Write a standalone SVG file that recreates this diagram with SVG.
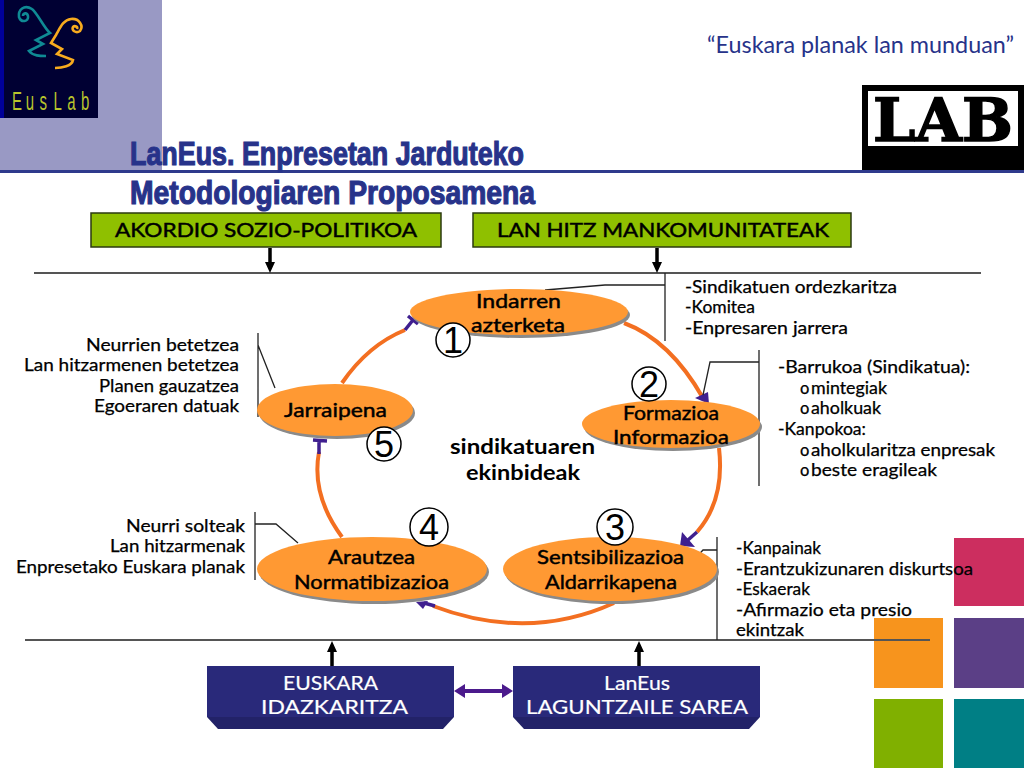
<svg xmlns="http://www.w3.org/2000/svg" width="1024" height="768" viewBox="0 0 1024 768">
<style>
text{font-family:Lato,"Open Sans",sans-serif;fill:#000;font-weight:400}
.t18{font-size:19px;stroke:#000;stroke-width:.45}.t16{font-size:16.5px;stroke:#000;stroke-width:.25}
.w{fill:#fff;font-size:20px;stroke:#fff;stroke-width:.2}
.big{font-size:21px;font-weight:700}
.num{font-family:"Liberation Sans",sans-serif;font-size:36px;font-weight:400;text-anchor:middle}
.ttl{font-family:"Liberation Sans",sans-serif;font-weight:700;font-size:33.5px;fill:#27338a;stroke:#27338a;stroke-width:1.2}
.rule{stroke:#555;stroke-width:2;fill:none}
.thin{stroke:#222;stroke-width:1.3;fill:none}
.arc{stroke:#f36f21;stroke-width:4;fill:none}
.blk{stroke:#000;stroke-width:3.5;fill:none}
.head{fill:#000}.ph{fill:#3f1f8f}.pl{stroke:#3f1f8f;stroke-width:3.5;fill:none}
.ell{fill:#ff9933}.sh{fill:#8a8a8a}
.green{fill:#8fc000;stroke:#2b3a10;stroke-width:1.5}
.navy{fill:#29297a}.navyb{fill:#222268}
.circ{fill:#fff;stroke:#000;stroke-width:1.5}
</style>
<rect width="1024" height="768" fill="#fff"/>
<g id="background">
<rect x="0" y="0" width="162" height="170" fill="#9999c4"/>
<rect x="0" y="0" width="98" height="118" fill="#000033"/>
<rect x="0" y="0" width="4" height="118" fill="#000099"/>
<path d="M32 9C24 4 18 10 19 17C21 23 29 22 28 16C27 12 23 13 23 16M32 9C38 14 44 28 50 33L36 40L43 44L29 51C33 56 40 56 46 56" fill="none" stroke="#0f8a94" stroke-width="2.6"/>
<path d="M71 19C63 20 60 28 56 35L51 43L62 49L57 54L73 60C72 66 62 68 55 68M71 19C79 18 84 26 80 31C76 34 71 30 73 27C75 25 78 27 77 29" fill="none" stroke="#f7ab1e" stroke-width="2.6"/>
<text transform="translate(12,110) scale(.6,1)" x="0 23 46 69 92 115" y="0" font-size="25" style="font-family:'Liberation Sans',sans-serif;fill:#b8c42c;font-weight:400">EusLab</text>
<rect x="862" y="85" width="162" height="85" fill="#000"/>
<rect x="868" y="91" width="150" height="55" fill="#fff"/>
<text x="873" y="141" style="font-family:'DejaVu Serif',serif;font-weight:700;font-size:60px" stroke="#000" stroke-width="1.5" textLength="140" lengthAdjust="spacingAndGlyphs">LAB</text>
<rect x="954" y="538" width="70" height="68" fill="#cc2e5f"/>
<rect x="874" y="618" width="69" height="70" fill="#f7941d"/>
<rect x="954" y="618" width="70" height="70" fill="#5b3f86"/>
<rect x="874" y="699" width="69" height="69" fill="#80b000"/>
<rect x="954" y="699" width="70" height="69" fill="#007f85"/>
<rect x="0" y="170" width="1024" height="3" fill="#2e3a8c"/>
</g>
<g id="title">
<text x="707" y="53" style="font-size:23px;fill:#27338a" textLength="307" lengthAdjust="spacingAndGlyphs">“Euskara planak lan munduan”</text>
<text class="ttl" x="130" y="165" textLength="394" lengthAdjust="spacingAndGlyphs">LanEus. Enpresetan Jarduteko</text>
<text class="ttl" x="130" y="204" textLength="405" lengthAdjust="spacingAndGlyphs">Metodologiaren Proposamena</text>
</g>
<g id="connectors">
<path class="rule" d="M34 273H981"/>
<path class="rule" d="M25 640H930"/>
<path class="blk" d="M270 248V264M657 248V264M332 666V650M639 666V650"/>
<path class="head" d="M265 262h10l-5 11zM652 262h10l-5 11zM327 652h10l-5-11zM634 652h10l-5-11z"/>
<path class="arc" d="M624 323Q670 340 703 398"/>
<path class="arc" d="M719 448Q725 500 697 532"/>
<path class="arc" d="M614 603Q528 642 433 606"/>
<path class="arc" d="M342 537Q311 495 319 452"/>
<path class="arc" d="M342 383Q368 345 405 330"/>
<path class="ph" d="M695 398L708 392L709 404z"/>
<path class="pl" d="M697 532L688 540"/>
<path class="ph" d="M682 532L680 546L695 547z"/>
<path class="ph" d="M416 602L423 609L428 601z"/>
<path class="pl" d="M424 603L435 606"/>
<path class="pl" d="M313 440L327 441M319 440V454"/>
<path class="pl" d="M408 316L418 324M413 320L405 330"/>
<path class="thin" d="M545 290L605 285H665M665 273V341"/>
<path class="thin" d="M759 350V486M759 362H710L703 395"/>
<path class="thin" d="M258 333V417M258 345L275 388"/>
<path class="thin" d="M255 512V580M255 524H276L298 543"/>
<path class="thin" d="M717 537V640M717 550H703L692 562"/>
<path d="M461 691H506" stroke="#4b1a8c" stroke-width="4" fill="none"/>
<path d="M454 691l11-7v14zM513 691l-11-7v14z" fill="#4b1a8c"/>
</g>
<g id="node-akordio"><rect class="green" x="91" y="213" width="350" height="34"/><text class="t18" x="115" y="237" textLength="302" lengthAdjust="spacingAndGlyphs">AKORDIO SOZIO-POLITIKOA</text></g>
<g id="node-lanhitz"><rect class="green" x="473" y="213" width="378" height="34"/><text class="t18" x="497" y="237" textLength="332" lengthAdjust="spacingAndGlyphs">LAN HITZ MANKOMUNITATEAK</text></g>
<g id="node-indarren"><ellipse class="sh" cx="521" cy="315" rx="109" ry="23"/><ellipse class="ell" cx="519" cy="312" rx="109" ry="23"/><text class="t18" x="476" y="308" textLength="85" lengthAdjust="spacingAndGlyphs">Indarren</text><text class="t18" x="471" y="332" textLength="94" lengthAdjust="spacingAndGlyphs">azterketa</text></g>
<g id="node-formazioa"><ellipse class="sh" cx="673" cy="427" rx="89" ry="24"/><ellipse class="ell" cx="671" cy="424" rx="89" ry="24"/><text class="t18" x="623" y="420" textLength="96" lengthAdjust="spacingAndGlyphs">Formazioa</text><text class="t18" x="613" y="444" textLength="116" lengthAdjust="spacingAndGlyphs">Informazioa</text></g>
<g id="node-sentsibilizazioa"><ellipse class="sh" cx="612" cy="572" rx="107" ry="32"/><ellipse class="ell" cx="610" cy="569" rx="107" ry="32"/><text class="t18" x="537" y="564" textLength="147" lengthAdjust="spacingAndGlyphs">Sentsibilizazioa</text><text class="t18" x="545" y="589" textLength="132" lengthAdjust="spacingAndGlyphs">Aldarrikapena</text></g>
<g id="node-arautzea"><ellipse class="sh" cx="374" cy="572" rx="115" ry="32"/><ellipse class="ell" cx="372" cy="569" rx="115" ry="32"/><text class="t18" x="328" y="564" textLength="87" lengthAdjust="spacingAndGlyphs">Arautzea</text><text class="t18" x="294" y="589" textLength="155" lengthAdjust="spacingAndGlyphs">Normatibizazioa</text></g>
<g id="node-jarraipena"><ellipse class="sh" cx="337" cy="413" rx="78" ry="26"/><ellipse class="ell" cx="335" cy="410" rx="78" ry="26"/><text class="t18" x="284" y="417" textLength="103" lengthAdjust="spacingAndGlyphs">Jarraipena</text></g>
<g id="node-center"><text class="big" x="450" y="454" textLength="145" lengthAdjust="spacingAndGlyphs">sindikatuaren</text><text class="big" x="466" y="480" textLength="114" lengthAdjust="spacingAndGlyphs">ekinbideak</text></g>
<g id="num-1"><circle class="circ" cx="453" cy="340" r="17"/><text class="num" x="453" y="353">1</text></g>
<g id="num-2"><circle class="circ" cx="649" cy="384" r="17"/><text class="num" x="649" y="397">2</text></g>
<g id="num-3"><circle class="circ" cx="615" cy="527" r="18"/><text class="num" x="615" y="540">3</text></g>
<g id="num-4"><circle class="circ" cx="429" cy="527" r="19"/><text class="num" x="429" y="540">4</text></g>
<g id="num-5"><circle class="circ" cx="384" cy="444" r="17"/><text class="num" x="384" y="457">5</text></g>
<g id="notes-top"><text class="t16" x="685" y="293" textLength="212" lengthAdjust="spacingAndGlyphs">-Sindikatuen ordezkaritza</text><text class="t16" x="685" y="313" textLength="70" lengthAdjust="spacingAndGlyphs">-Komitea</text><text class="t16" x="685" y="334" textLength="163" lengthAdjust="spacingAndGlyphs">-Enpresaren jarrera</text></g>
<g id="notes-left"><text class="t16" x="86" y="351" textLength="153" lengthAdjust="spacingAndGlyphs">Neurrien betetzea</text><text class="t16" x="24" y="371" textLength="215" lengthAdjust="spacingAndGlyphs">Lan hitzarmenen betetzea</text><text class="t16" x="99" y="392" textLength="140" lengthAdjust="spacingAndGlyphs">Planen gauzatzea</text><text class="t16" x="94" y="412" textLength="145" lengthAdjust="spacingAndGlyphs">Egoeraren datuak</text></g>
<g id="notes-right"><text class="t16" x="778" y="373" textLength="192" lengthAdjust="spacingAndGlyphs">-Barrukoa (Sindikatua):</text><text class="t16" x="800" y="394">o</text><text class="t16" x="811" y="394" textLength="76" lengthAdjust="spacingAndGlyphs">mintegiak</text><text class="t16" x="800" y="414">o</text><text class="t16" x="811" y="414" textLength="70" lengthAdjust="spacingAndGlyphs">aholkuak</text><text class="t16" x="778" y="435" textLength="88" lengthAdjust="spacingAndGlyphs">-Kanpokoa:</text><text class="t16" x="800" y="456">o</text><text class="t16" x="811" y="456" textLength="184" lengthAdjust="spacingAndGlyphs">aholkularitza enpresak</text><text class="t16" x="800" y="476">o</text><text class="t16" x="811" y="476" textLength="126" lengthAdjust="spacingAndGlyphs">beste eragileak</text></g>
<g id="notes-lowerleft"><text class="t16" x="126" y="532" textLength="119" lengthAdjust="spacingAndGlyphs">Neurri solteak</text><text class="t16" x="110" y="552" textLength="135" lengthAdjust="spacingAndGlyphs">Lan hitzarmenak</text><text class="t16" x="16" y="573" textLength="229" lengthAdjust="spacingAndGlyphs">Enpresetako Euskara planak</text></g>
<g id="notes-lowerright"><text class="t16" x="736" y="554" textLength="85" lengthAdjust="spacingAndGlyphs">-Kanpainak</text><text class="t16" x="736" y="575" textLength="237" lengthAdjust="spacingAndGlyphs">-Erantzukizunaren diskurtsoa</text><text class="t16" x="736" y="595" textLength="74" lengthAdjust="spacingAndGlyphs">-Eskaerak</text><text class="t16" x="736" y="616" textLength="176" lengthAdjust="spacingAndGlyphs">-Afirmazio eta presio</text><text class="t16" x="736" y="636" textLength="68" lengthAdjust="spacingAndGlyphs">ekintzak</text></g>
<g id="node-euskara"><path class="navy" d="M207 666H454V717H207z"/><path class="navyb" d="M207 717H454L443 729H218z"/><text class="w" x="283" y="690" textLength="95" lengthAdjust="spacingAndGlyphs">EUSKARA</text><text class="w" x="261" y="714" textLength="147" lengthAdjust="spacingAndGlyphs">IDAZKARITZA</text></g>
<g id="node-laneus"><path class="navy" d="M513 666H760V717H513z"/><path class="navyb" d="M513 717H760L749 729H524z"/><text class="w" x="604" y="690" textLength="66" lengthAdjust="spacingAndGlyphs">LanEus</text><text class="w" x="526" y="714" textLength="222" lengthAdjust="spacingAndGlyphs">LAGUNTZAILE SAREA</text></g>
</svg>
